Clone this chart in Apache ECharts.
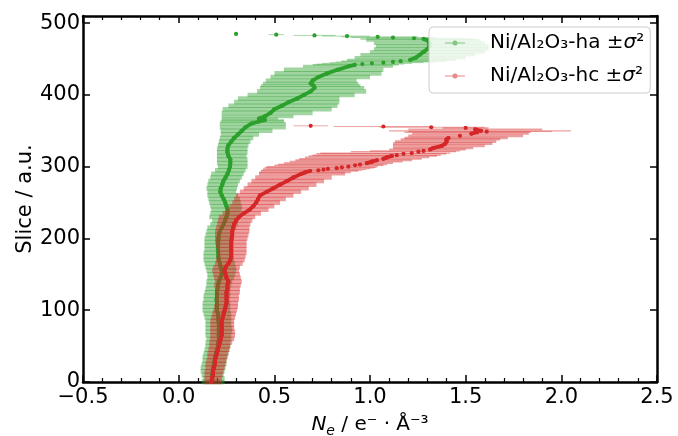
<!DOCTYPE html>
<html>
<head>
<meta charset="utf-8">
<script src="https://cdn.jsdelivr.net/npm/echarts@6/dist/echarts.min.js"></script>
<style>
  html, body { margin: 0; padding: 0; background: #fff; }
  #chart { width: 678px; height: 436px; }
</style>
</head>
<body>
<div id="chart"></div>
<script>
// Electron density profiles per slice, mean with ±σ² spread (horizontal error bars).
const nameHa = 'Ni/Al₂O₃-ha ±σ²';
const nameHc = 'Ni/Al₂O₃-hc ±σ²';

const sliceHa = [0,5,10,15,20,25,30,35,40,45,50,55,60,65,70,75,80,85,90,95,100,105,110,115,120,125,130,135,140,145,150,155,160,165,170,175,180,185,190,195,200,205,210,215,220,225,230,235,240,245,250,255,260,265,270,275,280,285,290,295,300,305,310,315,320,325,330,335,340,345,350,355,360,363,365,367,370,375,380,385,390,395,400,405,410,413,416,420,425,430,435,440,442,443,444,445,446,447,449,452,456,460,464,468,472,476,478,479,480,481,482,483,484,485];
const meanHa = [0.17,0.175,0.175,0.178,0.18,0.185,0.188,0.19,0.195,0.2,0.205,0.207,0.21,0.21,0.21,0.21,0.21,0.208,0.207,0.205,0.2,0.2,0.2,0.198,0.2,0.2,0.203,0.206,0.21,0.218,0.225,0.225,0.22,0.216,0.21,0.207,0.207,0.205,0.205,0.207,0.208,0.21,0.215,0.225,0.235,0.243,0.25,0.255,0.255,0.25,0.243,0.235,0.225,0.218,0.22,0.228,0.234,0.245,0.255,0.262,0.268,0.27,0.27,0.26,0.255,0.255,0.26,0.275,0.29,0.31,0.33,0.35,0.38,0.42,0.45,0.42,0.45,0.48,0.5,0.54,0.575,0.62,0.655,0.69,0.71,0.705,0.69,0.7,0.73,0.775,0.83,0.89,0.92,0.96,1.01,1.07,1.12,1.16,1.21,1.24,1.26,1.28,1.3,1.31,1.31,1.3,1.28,1.23,1.12,1.04,0.88,0.71,0.51,0.3];
const lowHa = [0.12,0.125,0.12,0.115,0.115,0.12,0.125,0.125,0.13,0.135,0.14,0.14,0.145,0.14,0.14,0.14,0.14,0.14,0.135,0.13,0.125,0.125,0.125,0.13,0.13,0.135,0.14,0.145,0.145,0.15,0.15,0.145,0.14,0.135,0.13,0.13,0.13,0.135,0.135,0.135,0.135,0.14,0.145,0.15,0.165,0.175,0.16,0.165,0.17,0.165,0.16,0.155,0.15,0.15,0.145,0.15,0.155,0.165,0.17,0.19,0.205,0.2,0.2,0.2,0.2,0.2,0.205,0.21,0.215,0.22,0.22,0.215,0.215,0.22,0.225,0.225,0.225,0.225,0.23,0.26,0.29,0.31,0.36,0.41,0.425,0.43,0.44,0.455,0.48,0.5,0.55,0.65,0.7,0.72,0.75,0.79,0.82,0.85,0.88,0.92,0.95,1.0,1.02,1.03,1.02,0.98,0.95,0.98,0.9,0.85,0.75,0.6,0.47,0.3];
const highHa = [0.24,0.24,0.235,0.24,0.245,0.25,0.25,0.255,0.26,0.265,0.27,0.27,0.275,0.275,0.28,0.28,0.275,0.275,0.275,0.275,0.27,0.27,0.27,0.265,0.27,0.27,0.27,0.275,0.28,0.29,0.295,0.3,0.3,0.295,0.29,0.285,0.285,0.28,0.28,0.285,0.285,0.285,0.29,0.3,0.31,0.31,0.32,0.325,0.33,0.33,0.325,0.32,0.31,0.3,0.305,0.31,0.32,0.33,0.34,0.35,0.36,0.36,0.36,0.355,0.36,0.36,0.365,0.375,0.39,0.42,0.49,0.56,0.56,0.55,0.55,0.52,0.6,0.7,0.8,0.83,0.84,0.84,0.92,0.98,0.97,0.95,0.94,0.93,1.0,1.06,1.07,1.12,1.15,1.18,1.22,1.28,1.35,1.4,1.45,1.5,1.55,1.6,1.62,1.62,1.6,1.58,1.55,1.5,1.35,1.25,1.0,0.82,0.55,0.3];

const sliceHc = [0,5,10,15,20,25,30,35,40,45,50,55,60,65,70,75,80,85,90,95,100,105,110,115,120,125,130,135,140,145,150,155,160,165,170,175,180,185,190,195,200,205,210,215,220,225,230,235,240,245,250,255,260,265,270,275,280,285,290,292,294,295,296,297,298,299,300,302,303,305,307,309,311,313,315,316,318,319,321,322,324,326,329,332,335,338,340,343,346,348,349,350,352,354,355,356,357];
const meanHc = [0.17,0.175,0.18,0.18,0.185,0.19,0.19,0.195,0.2,0.205,0.21,0.215,0.22,0.225,0.225,0.225,0.225,0.225,0.23,0.235,0.24,0.245,0.25,0.25,0.25,0.25,0.255,0.255,0.26,0.25,0.245,0.24,0.245,0.26,0.27,0.275,0.275,0.275,0.275,0.275,0.277,0.28,0.28,0.285,0.29,0.3,0.315,0.34,0.37,0.39,0.405,0.415,0.425,0.46,0.495,0.53,0.565,0.6,0.64,0.66,0.687,0.73,0.757,0.78,0.826,0.853,0.887,0.922,0.948,0.983,1.01,1.036,1.07,1.088,1.114,1.14,1.175,1.218,1.253,1.28,1.314,1.33,1.375,1.393,1.4,1.4,1.41,1.47,1.53,1.56,1.61,1.58,1.55,1.5,1.32,1.07,0.69];
const lowHc = [0.135,0.135,0.135,0.135,0.14,0.14,0.145,0.15,0.15,0.155,0.16,0.16,0.165,0.165,0.165,0.165,0.165,0.165,0.17,0.175,0.18,0.185,0.19,0.19,0.19,0.19,0.19,0.185,0.19,0.185,0.18,0.175,0.18,0.19,0.195,0.2,0.2,0.2,0.195,0.19,0.19,0.19,0.19,0.195,0.2,0.205,0.21,0.23,0.25,0.265,0.28,0.29,0.3,0.32,0.34,0.36,0.38,0.4,0.42,0.42,0.43,0.43,0.44,0.44,0.45,0.45,0.46,0.5,0.52,0.55,0.58,0.61,0.63,0.66,0.68,0.7,0.72,0.74,0.9,1.0,1.1,1.12,1.12,1.12,1.13,1.16,1.18,1.2,1.22,1.18,1.2,1.1,1.2,1.38,1.05,0.81,0.6];
const highHc = [0.225,0.225,0.23,0.235,0.24,0.245,0.25,0.255,0.26,0.265,0.27,0.28,0.29,0.295,0.295,0.29,0.29,0.29,0.295,0.3,0.305,0.31,0.31,0.315,0.315,0.32,0.32,0.325,0.33,0.325,0.32,0.315,0.32,0.335,0.345,0.35,0.355,0.355,0.355,0.355,0.36,0.365,0.37,0.37,0.375,0.385,0.4,0.43,0.47,0.5,0.53,0.56,0.6,0.64,0.68,0.72,0.76,0.8,0.87,0.9,0.94,0.96,0.98,1.0,1.02,1.03,1.04,1.07,1.09,1.12,1.17,1.22,1.27,1.31,1.35,1.37,1.4,1.42,1.45,1.47,1.5,1.54,1.6,1.64,1.66,1.68,1.72,1.8,1.83,1.84,1.95,2.05,1.9,1.62,1.6,1.33,0.78];

const xTicks = { min: -0.5, max: 2.5, step: 0.5 };
const yTicks = { min: 0, max: 510, step: 100 };

const GREEN = '#2ca02c';
const RED = '#d62728';
const FONT = 'DejaVu Sans';

function rows(slices, mean, lo, hi) {
  return slices.map((s, i) => [lo[i], hi[i], s, mean[i]]);
}

// half-distance (in slices) to neighbouring samples, used for bar thickness
function gapAt(slices, i) {
  const n = slices.length;
  if (n < 2) return 1;
  if (i === 0) return slices[1] - slices[0];
  if (i === n - 1) return slices[n - 1] - slices[n - 2];
  return (slices[i + 1] - slices[i - 1]) / 2;
}

function bandRenderer(slices, color) {
  return function (params, api) {
    const i = params.dataIndex;
    const a = api.coord([api.value(0), api.value(2)]);
    const b = api.coord([api.value(1), api.value(2)]);
    const pxPerSlice = api.size([0, 1])[1];
    const w = Math.max(gapAt(slices, i) * pxPerSlice * 1.28, 0.9);
    return {
      type: 'line',
      shape: { x1: a[0], y1: a[1], x2: b[0], y2: b[1] },
      style: { stroke: color, lineWidth: w }
    };
  };
}

// mean markers; neighbouring markers are joined where they would touch
function meanRenderer(slices, mean, color) {
  return function (params, api) {
    const i = params.dataIndex;
    const p = api.coord([mean[i], slices[i]]);
    const children = [];
    if (i < slices.length - 1) {
      const q = api.coord([mean[i + 1], slices[i + 1]]);
      const perSlice = Math.abs(q[0] - p[0]) / (slices[i + 1] - slices[i]);
      if (perSlice < 3) {
        children.push({
          type: 'line',
          shape: { x1: p[0], y1: p[1], x2: q[0], y2: q[1] },
          style: { stroke: color, lineWidth: 3.8, lineCap: 'round' }
        });
      }
    }
    children.push({
      type: 'circle',
      shape: { cx: p[0], cy: p[1], r: 2.1 },
      style: { fill: color }
    });
    return { type: 'group', children: children };
  };
}

const ICON = 'path://M0,2 L20,2 L20,3 L0,3 Z M7.5,2.5 A2.5,2.5 0 1 1 12.5,2.5 A2.5,2.5 0 1 1 7.5,2.5 Z';

const fmtX = v => v.toFixed(1).replace('-', '\u2212');

const axisLineStyle = { color: '#000', width: 2.5 };

const option = {
  animation: false,
  backgroundColor: '#fff',
  textStyle: { fontFamily: FONT },
  grid: { left: 83, right: 21, top: 16, bottom: 54, containLabel: false, outerBoundsMode: 'none' },
  legend: {
    orient: 'vertical',
    left: 429,
    top: 27,
    padding: [6, 6, 7, 16],
    itemGap: 13,
    itemWidth: 20,
    itemHeight: 5,
    backgroundColor: 'rgba(255,255,255,0.8)',
    borderColor: '#cccccc',
    borderWidth: 1,
    borderRadius: 4,
    selectedMode: false,
    textStyle: {
      fontFamily: FONT, fontSize: 20, color: '#000', padding: [0, 0, 0, 20],
      rich: { i: { fontFamily: FONT, fontSize: 20, fontStyle: 'italic', color: '#000' } }
    },
    formatter: name => name.replace('σ', '{i|σ}'),
    data: [
      { name: nameHa, icon: ICON, itemStyle: { color: 'rgba(44,160,44,0.55)' } },
      { name: nameHc, icon: ICON, itemStyle: { color: 'rgba(214,39,40,0.55)' } }
    ]
  },
  xAxis: [
    {
      type: 'value', position: 'bottom',
      min: xTicks.min, max: xTicks.max, interval: xTicks.step,
      axisLine: { show: true, onZero: false, lineStyle: axisLineStyle },
      axisTick: { show: true, inside: true, length: 7, lineStyle: { color: '#000', width: 1.5 } },
      minorTick: { show: true, splitNumber: 5, length: 4, lineStyle: { color: '#000', width: 1.2 } },
      splitLine: { show: false },
      axisLabel: { fontFamily: FONT, fontSize: 21, color: '#000', margin: 5, formatter: fmtX },
      name: '{n|N}{e|e}{t| / e⁻ · Å⁻³}',
      nameLocation: 'middle',
      nameGap: 30,
      nameMoveOverlap: false,
      nameTextStyle: {
        fontFamily: FONT, fontSize: 20, color: '#000',
        rich: {
          n: { fontFamily: FONT, fontSize: 20, fontStyle: 'italic', color: '#000', lineHeight: 26, verticalAlign: 'middle' },
          e: { fontFamily: FONT, fontSize: 14, fontStyle: 'italic', color: '#000', lineHeight: 14, verticalAlign: 'bottom' },
          t: { fontFamily: FONT, fontSize: 20, color: '#000', lineHeight: 26, verticalAlign: 'middle' }
        }
      }
    },
    {
      type: 'value', position: 'top',
      min: xTicks.min, max: xTicks.max, interval: xTicks.step,
      axisLine: { show: true, onZero: false, lineStyle: axisLineStyle },
      axisTick: { show: true, inside: true, length: 7, lineStyle: { color: '#000', width: 1.5 } },
      minorTick: { show: true, splitNumber: 5, length: 4, lineStyle: { color: '#000', width: 1.2 } },
      splitLine: { show: false },
      axisLabel: { show: false }
    }
  ],
  yAxis: [
    {
      type: 'value', position: 'left',
      min: yTicks.min, max: yTicks.max, interval: yTicks.step,
      axisLine: { show: true, onZero: false, lineStyle: axisLineStyle },
      axisTick: { show: true, inside: true, length: 7, lineStyle: { color: '#000', width: 1.5 } },
      splitLine: { show: false },
      axisLabel: { fontFamily: FONT, fontSize: 21, color: '#000', margin: 3, showMaxLabel: false },
      name: 'Slice / a.u.',
      nameLocation: 'middle',
      nameRotate: 90,
      nameGap: 47,
      nameMoveOverlap: false,
      nameTextStyle: { fontFamily: FONT, fontSize: 21, color: '#000' }
    },
    {
      type: 'value', position: 'right',
      min: yTicks.min, max: yTicks.max, interval: yTicks.step,
      axisLine: { show: true, onZero: false, lineStyle: axisLineStyle },
      axisTick: { show: true, inside: true, length: 7, lineStyle: { color: '#000', width: 1.5 } },
      splitLine: { show: false },
      axisLabel: { show: false }
    }
  ],
  series: [
    {
      name: nameHa, type: 'custom', silent: true, z: 2,
      itemStyle: { color: 'rgba(44,160,44,0.55)' },
      encode: { x: [0, 1], y: 2 },
      data: rows(sliceHa, meanHa, lowHa, highHa),
      renderItem: bandRenderer(sliceHa, 'rgba(44,160,44,0.45)')
    },
    {
      name: nameHa, type: 'custom', silent: true, z: 3,
      itemStyle: { color: GREEN },
      encode: { x: 3, y: 2 },
      data: rows(sliceHa, meanHa, lowHa, highHa),
      renderItem: meanRenderer(sliceHa, meanHa, GREEN)
    },
    {
      name: nameHc, type: 'custom', silent: true, z: 4,
      itemStyle: { color: 'rgba(214,39,40,0.55)' },
      encode: { x: [0, 1], y: 2 },
      data: rows(sliceHc, meanHc, lowHc, highHc),
      renderItem: bandRenderer(sliceHc, 'rgba(214,39,40,0.45)')
    },
    {
      name: nameHc, type: 'custom', silent: true, z: 5,
      itemStyle: { color: RED },
      encode: { x: 3, y: 2 },
      data: rows(sliceHc, meanHc, lowHc, highHc),
      renderItem: meanRenderer(sliceHc, meanHc, RED)
    }
  ]
};

const chart = echarts.init(document.getElementById('chart'), null, { renderer: 'canvas' });
chart.setOption(option);
</script>
</body>
</html>
